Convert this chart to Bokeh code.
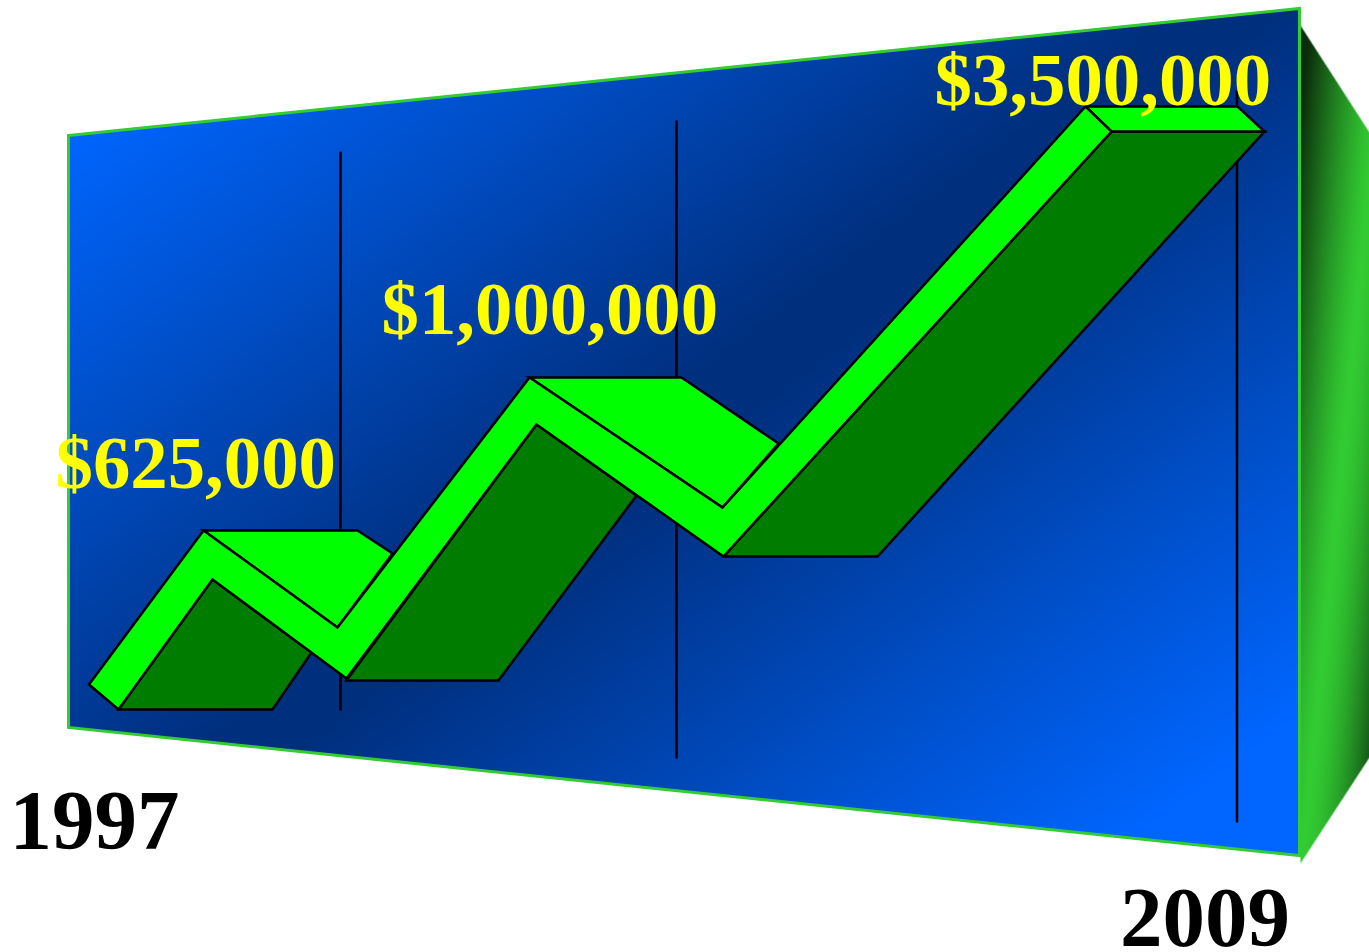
import numpy as np
from bokeh.core.properties import value
from bokeh.embed import file_html
from bokeh.plotting import figure
from bokeh.resources import INLINE

WIDTH, HEIGHT = 1369, 952

# Labels
year_labels = ["1997", "2009"]
year_x = [9, 1119.5]
year_baseline = [820, 917]
amount_labels = ["$625,000", "$1,000,000", "$3,500,000"]
amount_x = [55, 381, 934]
amount_baseline = [462, 307.5, 79]

# Back wall and side wall outlines
wall_x = [68, 1299, 1299, 68]
wall_y = [135, 8, 855, 727]
side_x = [1300, 1369, 1369, 1300]
side_y = [25, 132, 757, 863]

# Drop lines behind the ribbon
grid_x = [340, 676, 1236.5]
grid_top = [151, 120, 90]
grid_bottom = [710, 758, 822]

# Ribbon front face: upper edge left to right, then lower edge right to left
ribbon_upper_x = [88.5, 203, 337, 529, 722, 1085]
ribbon_upper_y = [684, 530, 627, 377, 507, 106]
ribbon_lower_x = [118, 212, 346, 536, 723, 1111]
ribbon_lower_y = [709, 579, 678, 424, 556, 131]

# Sunlit top faces of the three rises
top_faces_x = [[203, 357, 392, 337], [529, 681, 778, 722], [1085, 1237, 1264, 1111]]
top_faces_y = [[530, 530, 553, 627], [377, 377, 443, 507], [106, 106, 131, 131]]

# Shaded under faces of the three rises
under_faces_x = [[118, 212, 311, 272], [346, 536, 636, 498], [723, 1111, 1264, 877]]
under_faces_y = [[709, 579, 652, 709], [680, 424, 495, 680], [556, 131, 131, 556]]


def polygon_coverage(xs, ys, x0, y0, w, h, ss=3):
    """Fractional coverage of a convex polygon on a pixel grid."""
    px = x0 + (np.arange(w * ss) + 0.5) / ss
    py = y0 + (np.arange(h * ss) + 0.5) / ss
    gx, gy = np.meshgrid(px, py)
    inside = np.ones_like(gx, dtype=bool)
    n = len(xs)
    for i in range(n):
        j = (i + 1) % n
        cross = (xs[j] - xs[i]) * (gy - ys[i]) - (ys[j] - ys[i]) * (gx - xs[i])
        inside &= cross >= 0
    return inside.reshape(h, ss, w, ss).mean(axis=(1, 3))


def gradient_image(xs, ys, color_fn):
    """RGBA image of a shaded polygon, row 0 at the top of the page."""
    x0, x1 = int(min(xs)), int(max(xs)) + 1
    y0, y1 = int(min(ys)), int(max(ys)) + 1
    w, h = x1 - x0, y1 - y0
    cover = polygon_coverage(xs, ys, x0, y0, w, h)
    gx, gy = np.meshgrid(np.arange(w) + x0 + 0.5, np.arange(h) + y0 + 0.5)
    r, g, b = color_fn(gx, gy)
    img = np.zeros((h, w), dtype=np.uint32)
    view = img.view(dtype=np.uint8).reshape((h, w, 4))
    view[..., 0] = r
    view[..., 1] = g
    view[..., 2] = b
    view[..., 3] = np.round(cover * 255).astype(np.uint8)
    return img, x0, y0, w, h


def wall_color(gx, gy):
    # Bright corners fading into a dark diagonal band with a flat middle
    d = np.abs(0.6 * gx + 0.8 * gy - 748) / 600
    t = np.clip((d - 0.04) / 0.96, 0, 1)
    return 0 * t, 47 + 55 * t, 125 + 130 * t


def side_color(gx, gy):
    # Green sheen: brightest along a slanted band, dark toward two corners
    s = gx + 0.1 * gy
    left = np.clip((1387 - s) / 75, 0, 1) ** 1.3
    right = np.clip((s - 1387) / 60, 0, 1) ** 1.6
    fade = 1 - np.maximum(left * 0.78, right * 0.6)
    return 51 * fade, 204 * fade, 51 * fade


p = figure(
    width=WIDTH, height=HEIGHT,
    x_range=(0, WIDTH), y_range=(HEIGHT, 0),
    output_backend="svg", toolbar_location=None,
    min_border=0, background_fill_color="white", border_fill_color="white",
)
p.axis.visible = False
p.grid.visible = False
p.outline_line_color = None

for xs, ys, fn in ((side_x, side_y, side_color), (wall_x, wall_y, wall_color)):
    img, x0, y0, w, h = gradient_image(xs, ys, fn)
    p.image_rgba(image=[img], x=x0, y=y0, dw=w, dh=h, origin="bottom_left")

p.patch(wall_x, wall_y, fill_color=None, line_color="#33cc33", line_width=3, line_join="miter")

p.segment(grid_x, grid_top, grid_x, grid_bottom, line_color="black", line_width=2.5)

for fx, fy in zip(under_faces_x, under_faces_y):
    p.patch(fx, fy, fill_color="#007d00", line_color="black", line_width=2.5, line_join="miter")
for fx, fy in zip(top_faces_x, top_faces_y):
    p.patch(fx, fy, fill_color="#00ff00", line_color="black", line_width=2.5, line_join="miter")

p.patch(
    ribbon_upper_x + ribbon_lower_x[::-1],
    ribbon_upper_y + ribbon_lower_y[::-1],
    fill_color="#00ff00", line_color="black", line_width=2.5, line_join="miter",
)

p.text(
    amount_x, amount_baseline, text=amount_labels,
    text_font=value("Liberation Serif"), text_font_style="bold",
    text_font_size="74.8px", text_color="#ffff00", text_baseline="alphabetic",
)
p.text(
    year_x, year_baseline, text=year_labels,
    text_font=value("Liberation Serif"), text_font_style="bold",
    text_font_size="85px", text_color="black", text_baseline="alphabetic",
)

open("out.html", "w").write(file_html(p, INLINE))
